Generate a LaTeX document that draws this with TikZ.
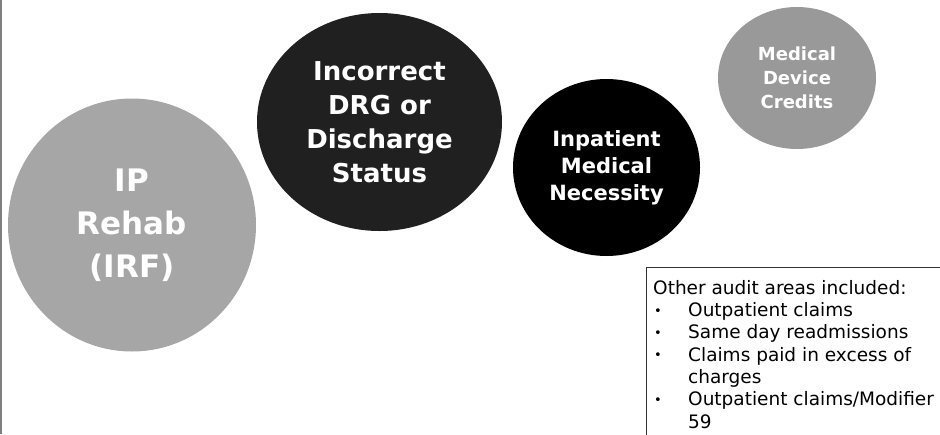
\documentclass[tikz,border=0pt]{standalone}
\usepackage{fontspec}
\setmainfont{DejaVu Sans}
\usetikzlibrary{shapes.geometric}
\definecolor{lightgrey}{HTML}{A6A6A6}
\definecolor{midgrey}{HTML}{999999}
\definecolor{nearblack}{HTML}{202020}
\definecolor{edgegrey}{HTML}{7F7F7F}
\newcommand{\itm}{\makebox[35pt][l]{\hspace{1pt}\raisebox{1.5pt}{\fontsize{13}{13}\selectfont•}}}

\begin{document}
\begin{tikzpicture}[x=1pt, y=-1pt,
    bubble/.style={ellipse, inner sep=0pt, text=white, align=center},
    infobox/.style={anchor=north west, align=left, inner xsep=7pt, inner ysep=13pt,
        font=\fontsize{18.5}{22.3}\selectfont}
]
\useasboundingbox (0,0) rectangle (940,434);
\clip (0,0) rectangle (940,434);

% Borde izquierdo
\draw[edgegrey, line width=1.5pt] (1,0) -- (1,434);

% Burbujas
\node[bubble, fill=lightgrey, minimum width=248pt, minimum height=253pt,
    font=\fontsize{31}{43}\selectfont\bfseries] (rehab) at (132,225) {IP\\Rehab\\(IRF)};
\node[bubble, fill=nearblack, minimum width=245pt, minimum height=218pt,
    font=\fontsize{26}{34}\selectfont\bfseries] (drg) at (379.5,122) {Incorrect\\DRG or\\Discharge\\Status};
\node[bubble, fill=black, minimum width=187pt, minimum height=177pt,
    font=\fontsize{21}{27}\selectfont\bfseries] (necessity) at (606.5,167.5) {Inpatient\\Medical\\Necessity};
\node[bubble, fill=midgrey, minimum width=158pt, minimum height=142pt,
    font=\fontsize{18}{24}\selectfont\bfseries] (device) at (797,78) {Medical\\Device\\Credits};

% Cuadro de texto
\node[infobox] (other) at (646,267) {Other audit areas included:\\
    \itm Outpatient claims\\
    \itm Same day readmissions\\
    \itm Claims paid in excess of\\
    \hspace*{35pt}charges\\
    \itm Outpatient claims/Modifier\\
    \hspace*{35pt}59};
\draw[black!80, line width=0.8pt] (other.north west) rectangle ++(320,200);

\end{tikzpicture}
\end{document}
